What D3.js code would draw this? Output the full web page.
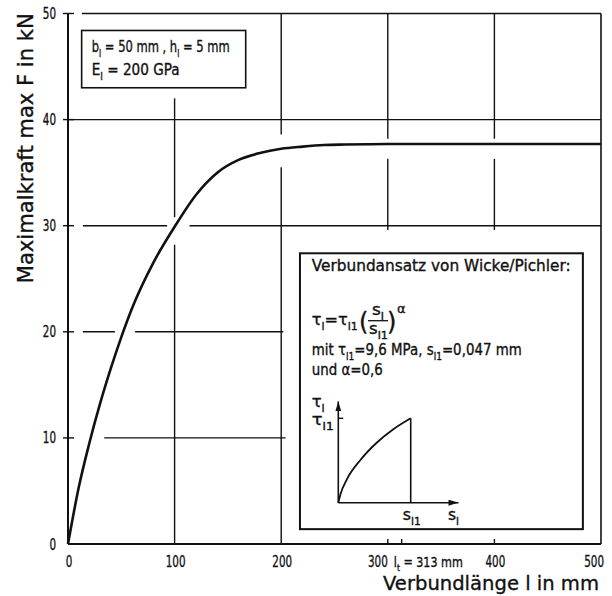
<!DOCTYPE html>
<html>
<head>
<meta charset="utf-8">
<script src="https://cdn.jsdelivr.net/npm/d3@7"></script>
<style>
  html, body { margin: 0; padding: 0; background: #fff; }
  svg { display: block; font-family: "DejaVu Sans", sans-serif; }
  svg text { stroke: #111; stroke-width: 0.35px; }
</style>
</head>
<body>
<div id="chart"></div>
<script>
// bond length l (mm) and max force F (kN)
const lengths = [0, 10, 20, 30, 40, 50, 60, 80, 100, 120, 140, 160, 180, 200, 220, 240, 260, 300, 400, 500];
const forces  = [0, 5.3, 9.5, 13.2, 16.5, 19.5, 22.2, 26.5, 29.9, 32.9, 35.0, 36.2, 36.85, 37.25, 37.45, 37.6, 37.65, 37.7, 37.7, 37.7];

const xTicks = [0, 100, 200, 300, 400, 500];
const yTicks = [0, 10, 20, 30, 40, 50];
const transferLength = 313;

// inset sketch of the bond law, normalised slip s/s_l1 and stress tau/tau_l1
const slipNorm = [0, 0.03, 0.12, 0.3, 0.53, 0.76, 1];
const tauNorm  = [0, 0.10, 0.28, 0.50, 0.71, 0.87, 1];

const width = 612, height = 596;
const svg = d3.select("#chart").append("svg")
    .attr("width", width)
    .attr("height", height);

const x = d3.scaleLinear().domain([0, 500]).range([68, 601]);
const y = d3.scaleLinear().domain([0, 50]).range([544, 13.5]);

const ink = "#111";

// helper: text made of runs, with sub/superscripts, squeezed to a given length
function richText(parent, px, py, parts, size, len) {
    const t = parent.append("text")
        .attr("x", px).attr("y", py)
        .attr("font-size", size)
        .attr("fill", ink);
    let shift = 0;
    parts.forEach(([s, kind]) => {
        const target = kind === "sub" ? size * 0.3 : kind === "sup" ? -size * 0.45 : 0;
        t.append("tspan")
            .attr("dy", target - shift)
            .attr("font-size", kind ? size * 0.68 : size)
            .text(s);
        shift = target;
    });
    if (len) t.attr("textLength", len).attr("lengthAdjust", "spacingAndGlyphs");
    return t;
}

// grid pieces in data units, broken where the curve or boxes cross them
const hGrid = [
    { v: 50, from: 13, to: 500 },
    { v: 40, from: 0, to: 500 },
    { v: 30, from: 14, to: 93 }, { v: 30, from: 114, to: 500 },
    { v: 20, from: 14, to: 44 }, { v: 20, from: 63, to: 202 },
    { v: 10, from: 34, to: 204 }
];
const vGrid = [
    { v: 100, from: 0, to: 28.2 }, { v: 100, from: 30.8, to: 42 },
    { v: 200, from: 0, to: 35.5 }, { v: 200, from: 38.6, to: 50 },
    { v: 300, from: 29.6, to: 36.3 }, { v: 300, from: 38.2, to: 50 },
    { v: 400, from: 29.6, to: 36.3 }, { v: 400, from: 38.2, to: 50 }
];

const grid = svg.append("g").attr("stroke", ink).attr("stroke-width", 1.4);
grid.selectAll(".h").data(hGrid).join("line")
    .attr("x1", d => x(d.from)).attr("x2", d => x(d.to))
    .attr("y1", d => y(d.v)).attr("y2", d => y(d.v));
grid.selectAll(".v").data(vGrid).join("line")
    .attr("x1", d => x(d.v)).attr("x2", d => x(d.v))
    .attr("y1", d => y(d.from)).attr("y2", d => y(d.to));

// frame: left axis, bottom axis, right edge
grid.append("line").attr("x1", x(0)).attr("x2", x(0)).attr("y1", y(0)).attr("y2", y(50)).attr("stroke-width", 2);
grid.append("line").attr("x1", x(0)).attr("x2", x(500)).attr("y1", y(0)).attr("y2", y(0)).attr("stroke-width", 2);
grid.append("line").attr("x1", x(500)).attr("x2", x(500)).attr("y1", y(0)).attr("y2", y(50)).attr("stroke-width", 1.6);

// y ticks out to the left
grid.selectAll(".yt").data(yTicks.slice(1)).join("line")
    .attr("x1", x(0) - 5).attr("x2", x(0) + 6)
    .attr("y1", d => y(d)).attr("y2", d => y(d));
// x ticks pointing up at 300, 313, 400
grid.selectAll(".xt").data([300, transferLength, 400]).join("line")
    .attr("x1", d => x(d)).attr("x2", d => x(d))
    .attr("y1", y(0)).attr("y2", y(0) - 5);

// tick labels (narrow lettering)
const digitW = 6.6;
const labels = svg.append("g").attr("font-size", 15).attr("fill", ink);
labels.selectAll(".yl").data(yTicks).join("text")
    .attr("x", d => 56 - String(d).length * digitW).attr("y", d => y(d) + 5.5)
    .attr("textLength", d => String(d).length * digitW)
    .attr("lengthAdjust", "spacingAndGlyphs")
    .text(d => d);
labels.selectAll(".xl").data(xTicks).join("text")
    .attr("x", d => {
        const w = String(d).length * digitW;
        if (d === 300) return x(d) - w;
        if (d === 500) return x(d) + 3 - w;
        return x(d) + 1 - w / 2;
    })
    .attr("y", 567)
    .attr("textLength", d => String(d).length * digitW)
    .attr("lengthAdjust", "spacingAndGlyphs")
    .text(d => d);
richText(svg, x(300) + 6, 567, [["l", null], ["t", "sub"], [" = " + transferLength + " mm", null]], 14, 69);

// axis titles
svg.append("text")
    .attr("transform", `translate(33,${(y(50) + 283) / 2}) rotate(-90)`)
    .attr("text-anchor", "middle")
    .attr("font-size", 22)
    .attr("fill", ink)
    .attr("textLength", 270).attr("lengthAdjust", "spacingAndGlyphs")
    .text("Maximalkraft  max  F  in  kN");
svg.append("text")
    .attr("x", 383).attr("y", 590)
    .attr("font-size", 20)
    .attr("fill", ink)
    .attr("textLength", 216).attr("lengthAdjust", "spacingAndGlyphs")
    .text("Verbundlänge  l  in  mm");

// the curve
const line = d3.line()
    .x((d, i) => x(lengths[i]))
    .y(d => y(d))
    .curve(d3.curveMonotoneX);
svg.append("path")
    .attr("d", line(forces))
    .attr("fill", "none")
    .attr("stroke", ink)
    .attr("stroke-width", 2.6);

// parameter box, upper left
svg.append("rect")
    .attr("x", x(12.8)).attr("y", y(48.4))
    .attr("width", x(166.7) - x(12.8)).attr("height", y(43.0) - y(48.4))
    .attr("fill", "#fff").attr("stroke", ink).attr("stroke-width", 1.6);
richText(svg, 91.7, 52, [["b", null], ["l", "sub"], [" = 50 mm , h", null], ["l", "sub"], [" = 5 mm", null]], 15, 138);
richText(svg, 91.7, 75, [["E", null], ["l", "sub"], [" = 200 GPa", null]], 15, 88);

// bond-law inset
svg.append("rect")
    .attr("x", x(217.6)).attr("y", y(27.4))
    .attr("width", x(483) - x(217.6)).attr("height", y(1.4) - y(27.4))
    .attr("fill", "#fff").attr("stroke", ink).attr("stroke-width", 2);

richText(svg, 311.7, 271, [["Verbundansatz von Wicke/Pichler:", null]], 15, 259);

// formula tau_l = tau_l1 (s_l / s_l1)^alpha
richText(svg, 311.7, 325, [["τ", null], ["l", "sub"], ["=τ", null], ["l1", "sub"]], 15, 46);
svg.append("text").attr("x", 359).attr("y", 330).attr("font-size", 24).attr("fill", ink).text("(");
svg.append("text").attr("x", 387).attr("y", 330).attr("font-size", 24).attr("fill", ink).text(")");
richText(svg, 372, 315, [["s", null], ["l", "sub"]], 15, 12);
richText(svg, 369, 334, [["s", null], ["l1", "sub"]], 15, 19);
svg.append("line").attr("x1", 368).attr("x2", 388).attr("y1", 320.7).attr("y2", 320.7)
    .attr("stroke", ink).attr("stroke-width", 1.3);
svg.append("text").attr("x", 397).attr("y", 313).attr("font-size", 13).attr("fill", ink).text("α");

richText(svg, 311.7, 355, [["mit  τ", null], ["l1", "sub"], ["=9,6 MPa, s", null], ["l1", "sub"], ["=0,047 mm", null]], 15, 210);
richText(svg, 311.7, 375, [["und α=0,6", null]], 15, 71);

// mini chart
const sx = d3.scaleLinear().domain([0, 1]).range([338.3, 410.7]);
const sy = d3.scaleLinear().domain([0, 1]).range([502.7, 418.3]);

const defs = svg.append("defs");
defs.append("marker")
    .attr("id", "arrow")
    .attr("viewBox", "0 0 10 6")
    .attr("refX", 10).attr("refY", 3)
    .attr("markerWidth", 10).attr("markerHeight", 6)
    .attr("markerUnits", "userSpaceOnUse")
    .attr("orient", "auto")
    .append("path").attr("d", "M0,0L10,3L0,6Z").attr("fill", ink).attr("stroke", "none");

const mini = svg.append("g").attr("stroke", ink).attr("fill", "none");
mini.append("line").attr("x1", sx(0)).attr("x2", sx(1.66)).attr("y1", sy(0)).attr("y2", sy(0))
    .attr("stroke-width", 1.6).attr("marker-end", "url(#arrow)");
mini.append("line").attr("x1", sx(0)).attr("x2", sx(0)).attr("y1", sy(0)).attr("y2", sy(1.2))
    .attr("stroke-width", 1.6).attr("marker-end", "url(#arrow)");
mini.append("line").attr("x1", sx(0)).attr("x2", sx(0) + 5).attr("y1", sy(1)).attr("y2", sy(1))
    .attr("stroke-width", 1.4);
mini.append("line").attr("x1", sx(1)).attr("x2", sx(1)).attr("y1", sy(1)).attr("y2", sy(0))
    .attr("stroke-width", 1.6);
mini.append("path")
    .attr("d", d3.line().x((d, i) => sx(slipNorm[i])).y(d => sy(d)).curve(d3.curveMonotoneX)(tauNorm))
    .attr("stroke-width", 1.8);

richText(svg, 311.7, 407, [["τ", null], ["l", "sub"]], 15, 13);
richText(svg, 311.7, 425, [["τ", null], ["l1", "sub"]], 15, 22);
richText(svg, sx(1) - 8, 520, [["s", null], ["l1", "sub"]], 15, 18);
richText(svg, 448, 520, [["s", null], ["l", "sub"]], 15, 11);
</script>
</body>
</html>
